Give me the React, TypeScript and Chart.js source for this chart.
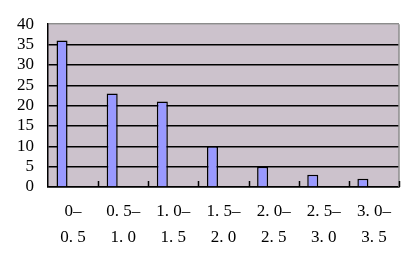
import React, { useEffect, useRef } from "react";
import { Chart, registerables } from "chart.js";

Chart.register(...registerables);

const categories: string[][] = [
  ["0–", "0. 5"],
  ["0. 5–", "1. 0"],
  ["1. 0–", "1. 5"],
  ["1. 5–", "2. 0"],
  ["2. 0–", "2. 5"],
  ["2. 5–", "3. 0"],
  ["3. 0–", "3. 5"],
];
const counts: number[] = [36, 23, 21, 10, 5, 3, 2];
const emptySeries: (number | null)[] = [null, null, null, null, null, null, null];
const yMin = 0;
const yMax = 40;
const yStep = 5;

const FONT = "'Liberation Serif', 'DejaVu Serif', serif";

const plotDecor = {
  id: "plotDecor",
  beforeDraw(chart: any) {
    const { ctx, chartArea } = chart;
    ctx.save();
    ctx.fillStyle = "#CCC2CC";
    ctx.fillRect(chartArea.left, chartArea.top, chartArea.right - chartArea.left, chartArea.bottom - chartArea.top);
    ctx.restore();
  },
  afterDraw(chart: any) {
    const { ctx, chartArea } = chart;
    const xs = chart.scales.x;
    const n = categories.length;
    const step = n > 1 ? xs.getPixelForValue(1) - xs.getPixelForValue(0) : xs.width;
    ctx.save();
    ctx.strokeStyle = "#8C8C8C";
    ctx.lineWidth = 1.5;
    ctx.beginPath();
    ctx.moveTo(chartArea.right, chartArea.top);
    ctx.lineTo(chartArea.right, chartArea.bottom);
    ctx.stroke();
    ctx.strokeStyle = "#000";
    ctx.lineWidth = 1.5;
    for (let i = 1; i <= n; i++) {
      const x = Math.round(xs.getPixelForValue(i - 1) + step / 2) + 0.5;
      ctx.beginPath();
      ctx.moveTo(x, chartArea.bottom);
      ctx.lineTo(x, chartArea.bottom - 6);
      ctx.stroke();
    }
    ctx.restore();
  },
};

export default function App() {
  const ref = useRef<HTMLCanvasElement | null>(null);
  useEffect(() => {
    if (!ref.current) return;
    const chart = new Chart(ref.current, {
      type: "bar",
      data: {
        labels: categories,
        datasets: [
          {
            data: counts,
            backgroundColor: "#9999FF",
            borderColor: "#000000",
            borderWidth: 1.5,
            categoryPercentage: 0.66,
            barPercentage: 1,
          },
          { data: emptySeries, categoryPercentage: 0.66, barPercentage: 1 },
          { data: emptySeries, categoryPercentage: 0.66, barPercentage: 1 },
        ],
      },
      options: {
        animation: false,
        responsive: false,
        maintainAspectRatio: false,
        layout: { padding: { top: 21, right: 17, left: 0, bottom: 0 } },
        plugins: { legend: { display: false }, tooltip: { enabled: false } },
        scales: {
          x: {
            grid: { display: false, drawTicks: false },
            border: { display: true, color: "#000", width: 1.5 },
            ticks: {
              color: "#000",
              padding: 12,
              maxRotation: 0,
              autoSkip: false,
              font: { family: FONT, size: 17, lineHeight: 1.5 },
            },
            afterFit(scale: any) {
              scale.height = 72;
            },
          },
          y: {
            min: yMin,
            max: yMax,
            grid: {
              drawTicks: false,
              color: (c: any) => (c.tick && c.tick.value === yMax ? "#8C8C8C" : "#000"),
              lineWidth: 1.5,
            },
            border: { display: true, color: "#000", width: 1.5 },
            ticks: {
              stepSize: yStep,
              autoSkip: false,
              color: "#000",
              padding: 14,
              font: { family: FONT, size: 17 },
            },
            afterFit(scale: any) {
              scale.width = 48;
            },
          },
        },
      },
      plugins: [plotDecor],
    });
    return () => chart.destroy();
  }, []);
  return (
    <div style={{ position: "fixed", left: 0, top: 0, width: 416, height: 259, background: "#fff" }}>
      <canvas ref={ref} width={416} height={259} style={{ width: 416, height: 259 }} />
    </div>
  );
}
